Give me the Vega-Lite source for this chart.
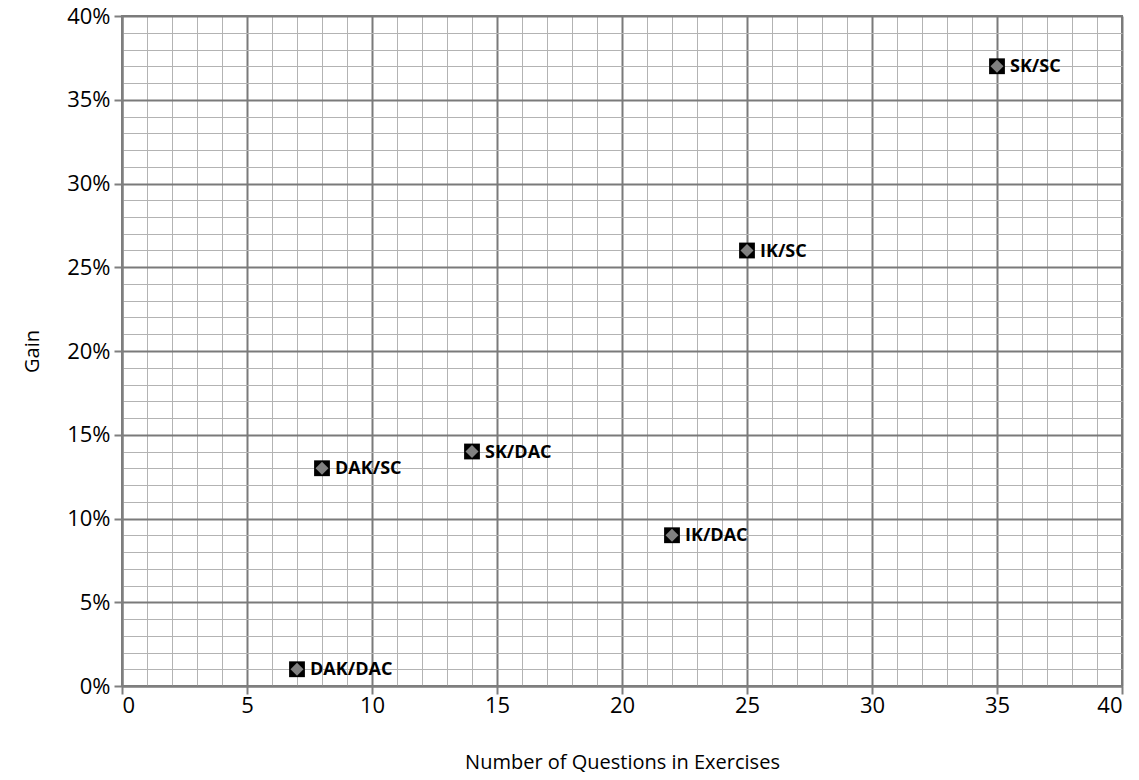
{
  "$schema": "https://vega.github.io/schema/vega-lite/v6.json",
  "width": 1000,
  "height": 670,
  "autosize": {"type": "none"},
  "padding": {"left": 122, "top": 16, "right": 17, "bottom": 94},
  "background": "white",
  "config": {
    "view": {"stroke": "#7f7f7f", "strokeWidth": 2},
    "font": "Open Sans"
  },
  "data": {
    "values": [
      {"label": "SK/SC", "questions": 35, "gain": 37},
      {"label": "IK/SC", "questions": 25, "gain": 26},
      {"label": "SK/DAC", "questions": 14, "gain": 14},
      {"label": "DAK/SC", "questions": 8, "gain": 13},
      {"label": "IK/DAC", "questions": 22, "gain": 9},
      {"label": "DAK/DAC", "questions": 7, "gain": 1}
    ]
  },
  "encoding": {
    "x": {
      "field": "questions",
      "type": "quantitative",
      "scale": {"domain": [0, 40], "nice": false},
      "axis": {
        "title": "Number of Questions in Exercises",
        "titleFont": "Open Sans",
        "titleFontSize": 20,
        "titleFontWeight": "normal",
        "titleColor": "#000",
        "titlePadding": 36,
        "values": [0,1,2,3,4,5,6,7,8,9,10,11,12,13,14,15,16,17,18,19,20,21,22,23,24,25,26,27,28,29,30,31,32,33,34,35,36,37,38,39,40],
        "labelExpr": "datum.value % 5 === 0 ? datum.label : ''",
        "labelFont": "Open Sans",
        "labelFontSize": 22,
        "labelColor": "#000",
        "labelPadding": 1,
        "domainColor": "#7f7f7f",
        "domainWidth": 2,
        "gridColor": {"condition": {"test": "datum.value % 5 === 0", "value": "#7a7a7a"}, "value": "#b3b3b3"},
        "gridWidth": {"condition": {"test": "datum.value % 5 === 0", "value": 2}, "value": 1},
        "gridOpacity": 1,
        "tickColor": "#7f7f7f",
        "tickWidth": 2,
        "tickSize": {"condition": {"test": "datum.value % 5 === 0", "value": 8}, "value": 0}
      }
    },
    "y": {
      "field": "gain",
      "type": "quantitative",
      "scale": {"domain": [0, 40], "nice": false},
      "axis": {
        "title": "Gain",
        "titleFont": "Open Sans",
        "titleFontSize": 20,
        "titleFontWeight": "normal",
        "titleColor": "#000",
        "titlePadding": 24,
        "values": [0,1,2,3,4,5,6,7,8,9,10,11,12,13,14,15,16,17,18,19,20,21,22,23,24,25,26,27,28,29,30,31,32,33,34,35,36,37,38,39,40],
        "labelExpr": "datum.value % 5 === 0 ? datum.value + '%' : ''",
        "labelFont": "Open Sans",
        "labelFontSize": 22,
        "labelColor": "#000",
        "labelPadding": 4,
        "domainColor": "#7f7f7f",
        "domainWidth": 2,
        "gridColor": {"condition": {"test": "datum.value % 5 === 0", "value": "#7a7a7a"}, "value": "#b3b3b3"},
        "gridWidth": {"condition": {"test": "datum.value % 5 === 0", "value": 2}, "value": 1},
        "gridOpacity": 1,
        "tickColor": "#7f7f7f",
        "tickWidth": 2,
        "tickSize": {"condition": {"test": "datum.value % 5 === 0", "value": 8}, "value": 0}
      }
    }
  },
  "layer": [
    {"mark": {"type": "point", "shape": "square", "filled": true, "color": "#000", "size": 250, "opacity": 1}},
    {"mark": {"type": "point", "shape": "diamond", "filled": true, "color": "#808080", "size": 170, "opacity": 1}},
    {
      "mark": {"type": "text", "align": "left", "baseline": "middle", "dx": 13, "dy": 1, "font": "Open Sans", "fontSize": 18, "fontWeight": "bold", "color": "#000"},
      "encoding": {"text": {"field": "label"}}
    }
  ]
}
